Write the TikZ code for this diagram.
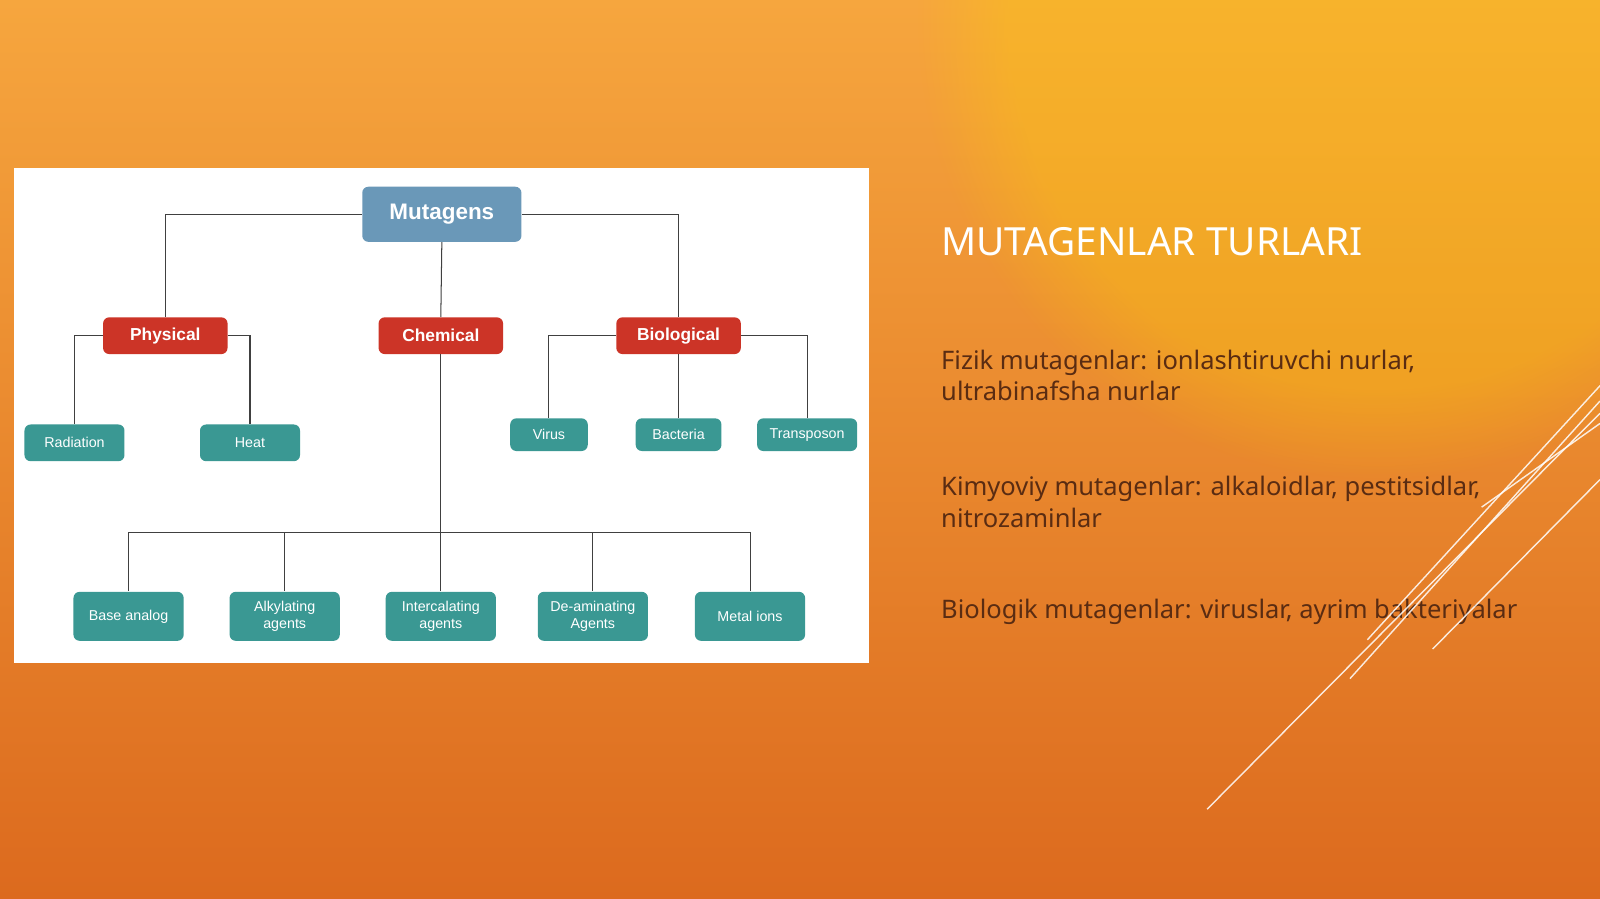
\documentclass[tikz,border=0pt]{standalone}
\usepackage{fontspec}
\usetikzlibrary{fadings}
\setmainfont{Noto Sans}
\newfontfamily\arialf{Liberation Sans}
\definecolor{bgtop}{HTML}{F6A63E}
\definecolor{bgbot}{HTML}{DC6A1E}
\definecolor{mblue}{HTML}{6A98B8}
\definecolor{mred}{HTML}{CC3427}
\definecolor{mteal}{HTML}{3A9893}
\definecolor{bodyc}{HTML}{5A2C12}
\tikzset{
 box/.style={rounded corners=3pt,text=white,align=center,font=\arialf\fontsize{7}{8}\selectfont,inner sep=0pt},
 topbox/.style={box,fill=mblue,minimum width=78pt,minimum height=27pt,font=\arialf\bfseries\fontsize{11}{12}\selectfont},
 redbox/.style={box,fill=mred,minimum width=61pt,minimum height=18pt,font=\arialf\bfseries\fontsize{8.5}{10}\selectfont},
 tealbox/.style={box,fill=mteal,minimum height=18pt},
 lowbox/.style={box,fill=mteal,minimum width=54pt,minimum height=24pt},
 link/.style={draw=black!75,line width=0.5pt},
 deco/.style={draw=white,line width=0.7pt,opacity=0.85},
 bodytxt/.style={anchor=west,text=bodyc,font=\fontsize{12.5}{15.5}\selectfont,align=left,inner sep=0pt}
}
\begin{document}
\begin{tikzpicture}[x=0.5pt,y=-0.5pt]
\useasboundingbox (0,0) rectangle (1568,881);
\begin{scope}
\clip (0,0) rectangle (1568,881);
\shade[top color=bgtop,bottom color=bgbot] (0,0) rectangle (1568,881);
\fill[yellow!70!orange,opacity=0.3,path fading=circle with fuzzy edge 20 percent] (1350,20) circle (450);
\end{scope}
\fill[white] (14,165) rectangle (852,650);
\node[topbox] (mut) at (433,210) {Mutagens};
\node[redbox] (phy) at (162,329) {Physical};
\node[redbox] (che) at (432,329) {Chemical};
\node[redbox] (bio) at (665,329) {Biological};
\node[tealbox,minimum width=49pt] (rad) at (73,434) {Radiation};
\node[tealbox,minimum width=49pt] (heat) at (245,434) {Heat};
\node[tealbox,minimum width=38pt,minimum height=16pt] (vir) at (538,426) {Virus};
\node[tealbox,minimum width=42pt,minimum height=16pt] (bac) at (665,426) {Bacteria};
\node[tealbox,minimum width=49pt,minimum height=16pt] (tra) at (791,426) {Transposon};
\node[lowbox] (b1) at (126,604) {Base analog};
\node[lowbox] (b2) at (279,604) {Alkylating\\agents};
\node[lowbox] (b3) at (432,604) {Intercalating\\agents};
\node[lowbox] (b4) at (581,604) {De-aminating\\Agents};
\node[lowbox] (b5) at (735,604) {Metal ions};
\coordinate (hub) at (432,522);
\draw[link] (mut.west) -| (phy.north);
\draw[link] (mut.east) -| (bio.north);
\draw[link] (mut.south) -- (che.north);
\draw[link] (phy.west) -| (rad.north);
\draw[link] (phy.east) -| (heat.north);
\draw[link] (bio.west) -| (vir.north);
\draw[link] (bio.south) -- (bac.north);
\draw[link] (bio.east) -| (tra.north);
\draw[link] (che.south) -- (hub);
\foreach \b in {b1,b2,b3,b4,b5} \draw[link] (hub) -| (\b.north);
\node[anchor=west,text=white,font=\fontsize{19}{22}\selectfont,inner sep=0pt] (ttl) at (922,237) {MUTAGENLAR TURLARI};
\node[bodytxt] (t1) at (922,368) {Fizik mutagenlar: ionlashtiruvchi nurlar,\\ultrabinafsha nurlar};
\node[bodytxt] (t2) at (922,492) {Kimyoviy mutagenlar: alkaloidlar, pestitsidlar,\\nitrozaminlar};
\node[bodytxt] (t3) at (922,600) {Biologik mutagenlar: viruslar, ayrim bakteriyalar};
\draw[deco] (1568,378) -- (1340,627);
\draw[deco] (1568,393) -- (1323,665);
\draw[deco] (1568,470) -- (1404,636);
\draw[deco] (1568,405) -- (1183,793);
\draw[deco] (1568,415) -- (1452,497);
\end{tikzpicture}
\end{document}
